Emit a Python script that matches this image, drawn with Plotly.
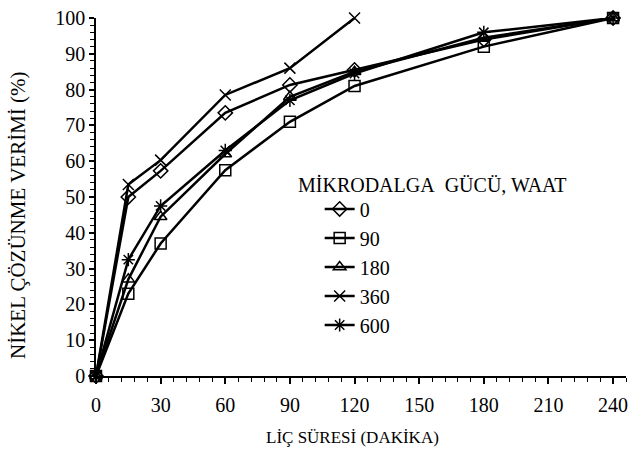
import plotly.graph_objects as go

# leaching time (min)
sure = [0, 15, 30, 60, 90, 120, 180, 240]
sure_360 = [0, 15, 30, 60, 90, 120]

# nickel dissolution efficiency (%) per microwave power (W)
verim_0 = [0, 50, 57.3, 73.5, 81.3, 85.5, 94, 100]
verim_90 = [0, 23, 37, 57.5, 71, 81, 92, 100]
verim_180 = [0, 27, 44.5, 62, 78, 85, 94.5, 100]
verim_360 = [0, 53.5, 60.3, 78.5, 86, 100]
verim_600 = [0, 32.5, 47.5, 63, 77, 84.5, 96, 100]

seriler = [
    ("0", sure, verim_0, "diamond-open"),
    ("90", sure, verim_90, "square-open"),
    ("180", sure, verim_180, "triangle-up-open"),
    ("360", sure_360, verim_360, "x-thin-open"),
    ("600", sure, verim_600, "asterisk-open"),
]

fig = go.Figure()
for ad, x, y, sembol in seriler:
    fig.add_trace(go.Scatter(
        x=x, y=y, name=ad, mode="lines+markers", cliponaxis=False,
        line=dict(color="black", width=2.5),
        marker=dict(symbol=sembol, size=11, color="black",
                    line=dict(color="black", width=1.5)),
    ))

font = "Liberation Serif, serif"

# plot area: x 96..626 px, y 18..376 px
def px(x):
    return (x - 96) / 530

def py(y):
    return (376 - y) / 358

fig.update_layout(
    width=632, height=450,
    margin=dict(l=96, r=6, t=18, b=74),
    paper_bgcolor="white", plot_bgcolor="white",
    font=dict(family=font, color="black"),
    showlegend=True,
    legend=dict(x=0.422, y=0.521, xanchor="left", yanchor="top",
                font=dict(size=20, family=font), bgcolor="rgba(0,0,0,0)",
                itemwidth=30, tracegroupgap=0),
    annotations=[
        dict(text="MİKRODALGA\u00a0\u00a0GÜCÜ, WAAT", x=px(296), y=py(185),
             xref="paper", yref="paper", showarrow=False,
             xanchor="left", yanchor="middle", font=dict(size=20, family=font)),
        dict(text="LİÇ SÜRESİ (DAKİKA)", x=px(352), y=py(437),
             xref="paper", yref="paper", showarrow=False,
             xanchor="center", yanchor="middle", font=dict(size=17, family=font)),
        dict(text="NİKEL ÇÖZÜNME VERİMİ (%)", x=px(18), y=py(215), textangle=-90,
             xref="paper", yref="paper", showarrow=False,
             xanchor="center", yanchor="middle", font=dict(size=21, family=font)),
    ],
)

fig.update_xaxes(
    range=[0, 246], tickvals=list(range(0, 241, 30)), automargin=False,
    showline=True, linecolor="black", linewidth=1.5,
    ticks="outside", ticklen=6, tickwidth=1.5, tickcolor="black",
    minor=dict(dtick=6, ticks="outside", ticklen=4, tickwidth=1.2, tickcolor="black"),
    showgrid=False, zeroline=False, ticklabelstandoff=4,
    tickfont=dict(size=20, family=font),
)
fig.update_yaxes(
    range=[0, 100], dtick=10, automargin=False,
    showline=True, linecolor="black", linewidth=1.5,
    ticks="outside", ticklen=5, tickwidth=1.5, tickcolor="black",
    minor=dict(dtick=2, ticks="outside", ticklen=4, tickwidth=1.2, tickcolor="black"),
    showgrid=False, zeroline=False,
    tickfont=dict(size=20, family=font),
)

fig.write_html("out.html", config={"displayModeBar": False},
               post_script="document.body.style.margin='0';")
